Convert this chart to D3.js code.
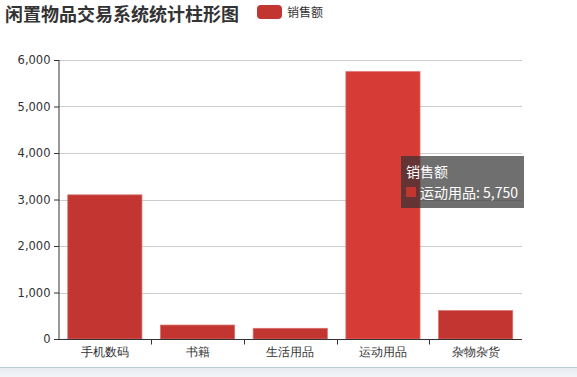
<!DOCTYPE html>
<html><head><meta charset="utf-8">
<script src="https://cdn.jsdelivr.net/npm/d3@7/dist/d3.min.js"></script>
<style>
html,body{margin:0;padding:0;background:#fff;overflow:hidden;}
svg{display:block;font-family:"Noto Sans CJK SC","Microsoft YaHei",sans-serif;}
</style></head><body>
<svg id="c" width="577" height="377"></svg>
<script>
const categories = ["手机数码","书籍","生活用品","运动用品","杂物杂货"];
const salesValues = [3100, 300, 230, 5750, 610];
const yTicks = [0,1000,2000,3000,4000,5000,6000];
const seriesName = "销售额";
const titleText = "闲置物品交易系统统计柱形图";
const highlightIndex = 3;

const svg = d3.select("#c");
const W = 577, H = 377;
const m = {l:58.5, r:55, t:60, b:38};
const x = d3.scaleBand().domain(categories).range([m.l, W-m.r]).paddingInner(0.2).paddingOuter(0.1);
const xb = d3.scaleBand().domain(categories).range([m.l, W-m.r]);
const y = d3.scaleLinear().domain([0,6000]).range([H-m.b, m.t]);
const fmt = d3.format(",");

// grid
svg.append("g").selectAll("line").data(yTicks.filter(d=>d>0)).join("line")
  .attr("x1", m.l).attr("x2", W-m.r)
  .attr("y1", d=>Math.round(y(d))+0.5).attr("y2", d=>Math.round(y(d))+0.5)
  .attr("stroke","#ccc").attr("stroke-width",1);

// bars
svg.append("g").selectAll("rect").data(salesValues).join("rect")
  .attr("x",(d,i)=>x(categories[i])).attr("width",x.bandwidth())
  .attr("y",d=>y(d)).attr("height",d=>y(0)-y(d))
  .attr("fill",(d,i)=>i===highlightIndex?"#d63b36":"#c23531")
  .attr("stroke",(d,i)=>i===highlightIndex?"#e2736f":"#d7706c").attr("stroke-width",0.8);

// y axis
const ya = svg.append("g").attr("transform",`translate(${m.l},0)`)
  .call(d3.axisLeft(y).tickValues(yTicks).tickFormat(fmt).tickSize(5).tickPadding(3));
ya.select(".domain").attr("stroke","#333").attr("d",`M0.5,${y(6000)}V${y(0)}`);
ya.selectAll(".tick line").attr("stroke","#333").attr("transform","translate(0.5,0)");
ya.selectAll(".tick text").attr("fill","#333").style("font-size","12px").style("font-family","'DejaVu Sans',sans-serif").style("font-size","11.5px");

// x axis
const xa = svg.append("g").attr("transform",`translate(0,${Math.round(y(0))+0.5})`)
  .call(d3.axisBottom(xb).tickSize(0).tickPadding(8));
xa.select(".domain").attr("stroke","#333").attr("d",`M${m.l},0H${W-m.r}`);
xa.selectAll(".tick text").attr("fill","#333").style("font-size","12px");
// boundary ticks
const bnd = categories.slice(1).map(c=>xb(c));
xa.append("g").selectAll("line").data(bnd).join("line")
  .attr("x1",d=>Math.round(d)+0.5).attr("x2",d=>Math.round(d)+0.5).attr("y1",0).attr("y2",5).attr("stroke","#333");

// title
svg.append("text").attr("x",5).attr("y",21).text(titleText)
  .attr("fill","#333").style("font-size","18px").style("font-weight","bold");

// legend
svg.append("rect").attr("x",257).attr("y",5).attr("width",25).attr("height",14).attr("rx",4).attr("fill","#c23531");
svg.append("text").attr("x",287).attr("y",17).text(seriesName).attr("fill","#333").style("font-size","12px");

// tooltip
const tg = svg.append("g").attr("transform","translate(401,156)");
tg.append("rect").attr("width",123).attr("height",52).attr("rx",0).attr("fill","rgba(50,50,50,0.7)");
tg.append("text").attr("x",5).attr("y",21).text(seriesName).attr("fill","#fff").style("font-size","14px");
tg.append("rect").attr("x",5).attr("y",31).attr("width",10).attr("height",10).attr("fill","#c23531");
tg.append("text").attr("x",19).attr("y",42).text(categories[highlightIndex]+": "+fmt(salesValues[highlightIndex]))
  .attr("fill","#fff").style("font-size","14px");

// bottom band
const gr = svg.append("defs").append("linearGradient").attr("id","bg").attr("x1",0).attr("y1",0).attr("x2",0).attr("y2",1);
gr.append("stop").attr("offset",0).attr("stop-color","#e6ebef");
gr.append("stop").attr("offset",1).attr("stop-color","#f3f5f7");
svg.append("rect").attr("x",0).attr("y",367).attr("width",W).attr("height",10).attr("fill","url(#bg)");
svg.append("line").attr("x1",0).attr("x2",W).attr("y1",367.5).attr("y2",367.5).attr("stroke","#b9ccd6");
</script>
</body></html>
